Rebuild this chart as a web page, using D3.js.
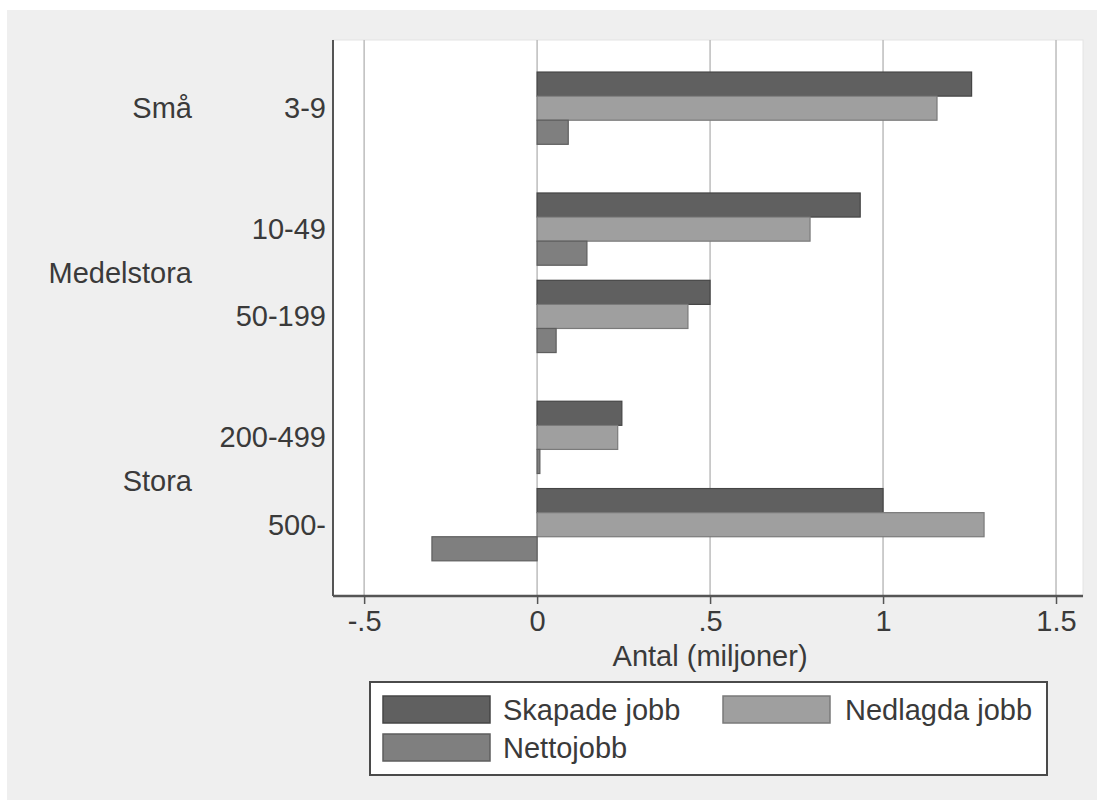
<!DOCTYPE html>
<html>
<head>
<meta charset="utf-8">
<script src="https://cdn.jsdelivr.net/npm/d3@7"></script>
<style>
  html, body { margin: 0; padding: 0; background: #ffffff; }
  svg { display: block; }
  text { font-family: "Liberation Sans", Arial, sans-serif; fill: #3a3a3a; }
</style>
</head>
<body>
<svg id="chart" width="1097" height="800"></svg>
<script>
// ---- data ----
const categories = ["3-9", "10-49", "50-199", "200-499", "500-"];
const outerGroups = ["Små", "Medelstora", "Medelstora", "Stora", "Stora"];
const seriesNames = ["Skapade jobb", "Nedlagda jobb", "Nettojobb"];
const skapade  = [1.256, 0.934, 0.500, 0.245, 1.000];
const nedlagda = [1.156, 0.789, 0.436, 0.233, 1.292];
const netto    = [0.090, 0.144, 0.055, 0.008, -0.304];
const xTicks = [-0.5, 0, 0.5, 1, 1.5];
const xTickLabels = ["-.5", "0", ".5", "1", "1.5"];
const xTitle = "Antal (miljoner)";

// ---- styles ----
const fills   = ["#606060", "#9f9f9f", "#7f7f7f"];
const strokes = ["#454545", "#7a7a7a", "#5e5e5e"];
const series = [skapade, nedlagda, netto];
const FONT = 29;

const svg = d3.select("#chart");

// background
svg.append("rect").attr("x", 0).attr("y", 0).attr("width", 1097).attr("height", 800).attr("fill", "#ffffff");
svg.append("rect").attr("x", 7).attr("y", 10).attr("width", 1090).attr("height", 790).attr("fill", "#efefef");

// plot region
const plot = { left: 333, right: 1083, top: 40, bottom: 596 };
svg.append("rect")
  .attr("x", plot.left).attr("y", plot.top)
  .attr("width", plot.right - plot.left).attr("height", plot.bottom - plot.top)
  .attr("fill", "#ffffff").attr("stroke", "#e4e4e4").attr("stroke-width", 1);

const x = d3.scaleLinear().domain([-0.59, 1.578]).range([plot.left, plot.right]);

// vertical layout in "bar units"
const topPad = 1.33, bottomPad = 1.46, innerGap = 0.625, outerGap = 2.02;
const starts = [];
let u = topPad;
categories.forEach((c, i) => {
  if (i > 0) u += (outerGroups[i] === outerGroups[i - 1]) ? innerGap : outerGap;
  starts.push(u);
  u += seriesNames.length;
});
const total = u + bottomPad;
const y = d3.scaleLinear().domain([0, total]).range([plot.top, plot.bottom]);
const barH = y(1) - y(0);

// gridlines
svg.append("g").selectAll("line").data(xTicks).join("line")
  .attr("x1", d => x(d)).attr("x2", d => x(d))
  .attr("y1", plot.top).attr("y2", plot.bottom)
  .attr("stroke", "#bdbdbd").attr("stroke-width", 1.5);

// bars
const barData = [];
categories.forEach((c, i) => {
  series.forEach((s, k) => {
    barData.push({ i, k, v: s[i] });
  });
});
svg.append("g").selectAll("rect").data(barData).join("rect")
  .attr("x", d => x(Math.min(0, d.v)))
  .attr("y", d => y(starts[d.i] + d.k))
  .attr("width", d => Math.abs(x(d.v) - x(0)))
  .attr("height", barH)
  .attr("fill", d => fills[d.k])
  .attr("stroke", d => strokes[d.k])
  .attr("stroke-width", 1.2);

// axes lines
svg.append("line").attr("x1", plot.left).attr("x2", plot.left)
  .attr("y1", plot.top).attr("y2", plot.bottom)
  .attr("stroke", "#555").attr("stroke-width", 2);

const xAxis = d3.axisBottom(x).tickValues(xTicks)
  .tickFormat((d, i) => xTickLabels[i]).tickSize(8).tickPadding(6);
const gx = svg.append("g").attr("transform", `translate(0,${plot.bottom})`).call(xAxis);
gx.select(".domain").attr("d", `M${plot.left},0H${plot.right}`).attr("stroke", "#555").attr("stroke-width", 2.5);
gx.selectAll(".tick line").attr("stroke", "#555").attr("stroke-width", 1.5);
gx.selectAll(".tick text").attr("font-size", FONT).attr("fill", "#3a3a3a")
  .attr("font-family", "Liberation Sans, Arial, sans-serif");

svg.append("text").attr("x", x(0.5)).attr("y", 656).attr("text-anchor", "middle")
  .attr("dominant-baseline", "central").attr("font-size", FONT).text(xTitle);

// inner category labels
svg.append("g").selectAll("text").data(categories).join("text")
  .attr("x", 326)
  .attr("y", (d, i) => y(starts[i] + seriesNames.length / 2))
  .attr("text-anchor", "end").attr("dominant-baseline", "central")
  .attr("font-size", FONT).text(d => d);

// outer group labels
const outerUnique = Array.from(new Set(outerGroups));
svg.append("g").selectAll("text").data(outerUnique).join("text")
  .attr("x", 192)
  .attr("y", g => {
    const idx = outerGroups.map((o, i) => o === g ? i : -1).filter(i => i >= 0);
    const a = y(starts[idx[0]]);
    const b = y(starts[idx[idx.length - 1]] + seriesNames.length);
    return (a + b) / 2;
  })
  .attr("text-anchor", "end").attr("dominant-baseline", "central")
  .attr("font-size", FONT).text(d => d);

// legend
const lg = svg.append("g");
lg.append("rect").attr("x", 370).attr("y", 682).attr("width", 677).attr("height", 93)
  .attr("fill", "#ffffff").attr("stroke", "#4a4a4a").attr("stroke-width", 2);
const legendPos = [
  { kx: 383, ky: 696, tx: 503 },
  { kx: 723, ky: 696, tx: 845 },
  { kx: 383, ky: 734, tx: 503 }
];
seriesNames.forEach((name, k) => {
  const p = legendPos[k];
  lg.append("rect").attr("x", p.kx).attr("y", p.ky).attr("width", 107).attr("height", 27)
    .attr("fill", fills[k]).attr("stroke", strokes[k]).attr("stroke-width", 1.5);
  lg.append("text").attr("x", p.tx).attr("y", p.ky + 14)
    .attr("dominant-baseline", "central").attr("font-size", FONT).text(name);
});
</script>
</body>
</html>
